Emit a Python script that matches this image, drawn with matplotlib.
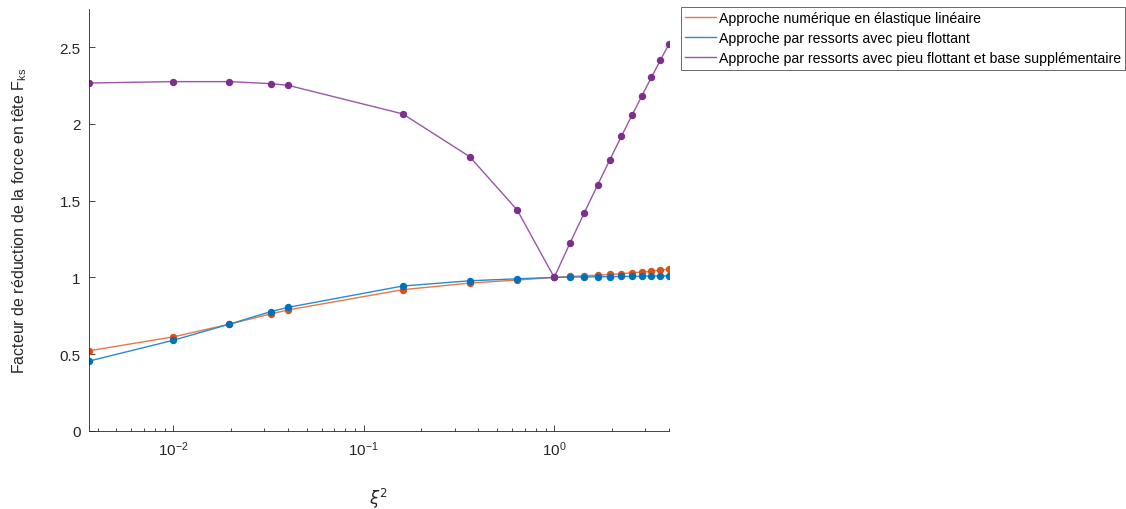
import numpy as np
import matplotlib.pyplot as plt

plt.rcParams['font.family'] = ['Liberation Sans', 'DejaVu Sans']
plt.rcParams['axes.unicode_minus'] = False

xi2 = [0.0036, 0.01, 0.0196, 0.0324, 0.04, 0.16, 0.36, 0.64, 1.0,
       1.21, 1.44, 1.69, 1.96, 2.25, 2.56, 2.89, 3.24, 3.61, 4.0]

f_num = [0.522, 0.613, 0.695, 0.762, 0.788, 0.920, 0.963, 0.983, 1.0,
         1.006, 1.010, 1.015, 1.019, 1.024, 1.030, 1.035, 1.041, 1.047, 1.054]
f_ress = [0.455, 0.591, 0.695, 0.777, 0.805, 0.944, 0.978, 0.991, 1.0,
          1.002, 1.003, 1.004, 1.005, 1.006, 1.007, 1.008, 1.009, 1.010, 1.011]
f_base = [2.266, 2.275, 2.275, 2.262, 2.251, 2.065, 1.786, 1.438, 1.0,
          1.223, 1.422, 1.602, 1.766, 1.918, 2.055, 2.184, 2.303, 2.414, 2.518]

labels = ['Approche numérique en élastique linéaire',
          'Approche par ressorts avec pieu flottant',
          'Approche par ressorts avec pieu flottant et base supplémentaire']
colors = ['#D95319', '#0072BD', '#7E2F8E']
line_colors = ['#E8774A', '#2A8AD0', '#9A55A8']

fig = plt.figure(figsize=(11.26, 5.10), dpi=100)
ax = fig.add_axes([0.079, 0.153, 0.515, 0.828])

for y, lab, c, lc in zip([f_num, f_ress, f_base], labels, colors, line_colors):
    ax.plot(xi2, y, color=lc, lw=1.0, label=lab)
    ax.plot(xi2, y, 'o', color=c, ms=4.3, ls='none')

ax.set_xscale('log')
ax.set_xlim(0.0036, 4.0)
ax.set_ylim(0, 2.75)
ax.set_yticks([0, 0.5, 1, 1.5, 2, 2.5])
ax.set_yticklabels(['0', '0.5', '1', '1.5', '2', '2.5'])

for s in ['top', 'right']:
    ax.spines[s].set_visible(False)
for s in ['left', 'bottom']:
    ax.spines[s].set_color('#262626')
    ax.spines[s].set_linewidth(0.6)
ax.tick_params(which='both', direction='in', colors='#262626', labelsize=11, width=0.6)
ax.tick_params(which='major', length=4, pad=6)
ax.tick_params(which='minor', length=2)

ax.set_xlabel('$\\xi^2$', fontsize=12, color='#262626', labelpad=20)
ax.set_ylabel('Facteur de réduction de la force en tête F$_{\\mathregular{ks}}$',
              fontsize=11.5, color='#262626', labelpad=22)

leg = ax.legend(loc='upper left', bbox_to_anchor=(0.6045, 0.984), bbox_transform=fig.transFigure,
                fontsize=10.2, frameon=True, fancybox=False, borderpad=0.3,
                handlelength=2.2, handletextpad=0.2, labelspacing=0.42, borderaxespad=0)
leg.get_frame().set_edgecolor('#262626')
leg.get_frame().set_linewidth(0.6)

fig.savefig('out.png', dpi=100)
